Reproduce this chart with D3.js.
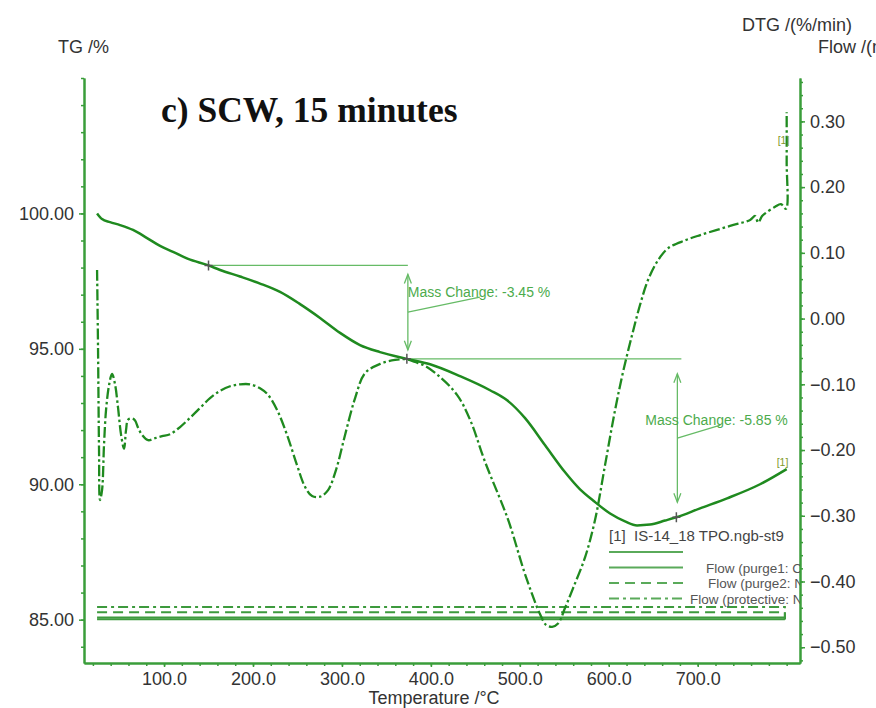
<!DOCTYPE html>
<html>
<head>
<meta charset="utf-8">
<script src="https://cdn.jsdelivr.net/npm/d3@7"></script>
<style>
body { margin: 0; background: #fff; }
svg { display: block; font-family: "Liberation Sans", Arial, sans-serif; }
</style>
</head>
<body>
<div id="chart"></div>
<script>
var width = 876
var height = 708

// TG curve (temperature in °C, mass in %)
var tgTemp = [24.7, 30.3, 39.3, 50.5, 65.1, 80.9, 95.5, 110.1, 127.0, 150.0, 163.0, 185.4, 207.9, 230.4, 252.9,
	275.4, 297.9, 320.3, 342.8, 373.0, 399.1, 432.8, 466.5, 485.7, 505.9, 528.4, 550.9, 567.7, 582.4, 601.5,
	618.3, 631.8, 646.4, 663.3, 676.0, 702.6, 733.0, 770.1, 800.0];
var tgValue = [100.00, 99.79, 99.68, 99.57, 99.39, 99.09, 98.80, 98.58, 98.32, 98.08, 97.91, 97.67, 97.41, 97.10, 96.65,
	96.14, 95.59, 95.14, 94.88, 94.63, 94.43, 93.99, 93.47, 93.10, 92.44, 91.44, 90.44, 89.81, 89.40, 88.92,
	88.63, 88.48, 88.51, 88.66, 88.78, 89.11, 89.48, 90.00, 90.56];

// DTG curve (%/min)
var dtgTemp = [24.7, 25.8, 26.9, 28.0, 30.3, 32.5, 34.8, 38.2, 41.5, 44.9, 48.3, 51.7, 55.0, 57.3, 59.5,
	64.0, 67.4, 70.8, 75.3, 82.0, 89.9, 97.8, 106.7, 118.0, 129.2, 140.5, 151.7, 163.0, 174.2, 185.4,
	196.7, 207.9, 216.9, 227.1, 238.3, 249.5, 258.5, 266.4, 275.4, 284.4, 293.4, 303.5, 314.8, 326.0, 342.9,
	359.7, 373.2, 382.2, 393.5, 410.3, 429.4, 444.1, 460.9, 486.8, 505.9, 522.8, 529.5, 536.3, 543.0, 550.9,
	559.9, 573.4, 584.6, 595.8, 607.1, 616.1, 626.2, 635.2, 644.2, 655.5, 666.7, 685.8, 702.8, 736.4, 758.9,
	764.5, 767.9, 772.4, 775.8, 787.0, 793.6, 799.3, 800.0, 800.0];
var dtgValue = [0.074, -0.048, -0.200, -0.276, -0.261, -0.192, -0.139, -0.101, -0.084, -0.100, -0.136, -0.177, -0.198, -0.169, -0.154,
	-0.152, -0.155, -0.166, -0.177, -0.185, -0.182, -0.179, -0.176, -0.165, -0.151, -0.136, -0.121, -0.110, -0.103, -0.100,
	-0.100, -0.106, -0.116, -0.139, -0.177, -0.223, -0.256, -0.270, -0.271, -0.261, -0.230, -0.177, -0.121, -0.083, -0.069,
	-0.063, -0.062, -0.066, -0.072, -0.089, -0.116, -0.154, -0.218, -0.306, -0.389, -0.450, -0.466, -0.469, -0.464, -0.440,
	-0.410, -0.363, -0.306, -0.223, -0.139, -0.081, -0.025, 0.021, 0.059, 0.089, 0.107, 0.119, 0.127, 0.141, 0.150,
	0.156, 0.146, 0.156, 0.160, 0.170, 0.174, 0.167, 0.240, 0.314];

// gas flows (ml/min), constant over the run
var flowNames = ["", "Flow (purge1: CO2)", "Flow (purge2: N2)", "Flow (protective: N2)"];
var flowValue = [5, 0, 20, 35];
var flowStart = 24.7;
var flowEnd = 798;

// mass change steps
var stepStart = [150, 373];
var stepEnd = [373, 676];
var stepChange = [-3.45, -5.85];

var tgTicks = [85, 90, 95, 100];
var dtgTicks = [0.30, 0.20, 0.10, 0.00, -0.10, -0.20, -0.30, -0.40, -0.50];
var tempTicks = [100, 200, 300, 400, 500, 600, 700];

var axisGreen = "#3a9d3a";
var curveGreen = "#1f8a1f";
var noteGreen = "#66bb66";
var textGrey = "#333";

var plotLeft = 84, plotRight = 800, plotTop = 78, plotBottom = 663;

var svg = d3.select("#chart")
	.append("svg")
	.attr("width", width)
	.attr("height", height);

var x = d3.scaleLinear().domain([10, 815]).range([plotLeft, plotRight]);
var yTG = d3.scaleLinear().domain([83.4, 105.0]).range([plotBottom, plotTop]);
var yDTG = d3.scaleLinear().domain([-0.524, 0.366]).range([plotBottom, plotTop]);
var yFlow = d3.scaleLinear().domain([-125, 1550]).range([plotBottom, plotTop]);

svg.append("clipPath")
	.attr("id", "plotClip")
	.append("rect")
	.attr("x", plotLeft)
	.attr("y", plotTop - 40)
	.attr("width", plotRight - plotLeft)
	.attr("height", plotBottom - plotTop + 40);

// axes
function styleAxis(g) {
	g.selectAll(".domain").attr("stroke", axisGreen).attr("stroke-width", 2);
	g.selectAll(".tick line").attr("stroke", axisGreen).attr("stroke-width", 1.5);
	g.selectAll(".tick text").attr("fill", textGrey).style("font-size", "18px");
}

var minorTG = d3.range(84, 105.01, 1);
var minorDTG = d3.range(-0.52, 0.361, 0.02);
var minorTemp = d3.range(20, 801, 20);

svg.append("g")
	.attr("transform", "translate(" + plotLeft + ",0)")
	.call(d3.axisLeft(yTG).tickValues(minorTG).tickFormat("").tickSize(3).tickSizeOuter(0))
	.call(styleAxis);
svg.append("g")
	.attr("transform", "translate(" + plotLeft + ",0)")
	.call(d3.axisLeft(yTG).tickValues(tgTicks).tickFormat(d3.format(".2f")).tickSize(5).tickPadding(5).tickSizeOuter(0))
	.call(styleAxis);

svg.append("g")
	.attr("transform", "translate(" + plotRight + ",0)")
	.call(d3.axisRight(yDTG).tickValues(minorDTG).tickFormat("").tickSize(3).tickSizeOuter(0))
	.call(styleAxis);
svg.append("g")
	.attr("transform", "translate(" + plotRight + ",0)")
	.call(d3.axisRight(yDTG).tickValues(dtgTicks).tickFormat(d3.format(".2f")).tickSize(5).tickPadding(5).tickSizeOuter(0))
	.call(styleAxis);

svg.append("g")
	.attr("transform", "translate(0," + plotBottom + ")")
	.call(d3.axisBottom(x).tickValues(minorTemp).tickFormat("").tickSize(3).tickSizeOuter(0))
	.call(styleAxis);
svg.append("g")
	.attr("transform", "translate(0," + plotBottom + ")")
	.call(d3.axisBottom(x).tickValues(tempTicks).tickFormat(d3.format(".1f")).tickSize(4).tickPadding(5).tickSizeOuter(0))
	.call(styleAxis);

// axis titles
svg.append("text").attr("x", 58).attr("y", 53).attr("fill", textGrey)
	.style("font-size", "18px").text("TG /%");
svg.append("text").attr("x", 742).attr("y", 31).attr("fill", textGrey)
	.style("font-size", "18px").text("DTG /(%/min)");
svg.append("text").attr("x", 818).attr("y", 53).attr("fill", textGrey)
	.style("font-size", "18px").text("Flow /(ml/min)");
svg.append("text").attr("x", 434).attr("y", 704).attr("text-anchor", "middle").attr("fill", textGrey)
	.style("font-size", "18px").text("Temperature /°C");

svg.append("text")
	.attr("x", 161).attr("y", 122)
	.style("font-family", "'Liberation Serif', 'Times New Roman', serif")
	.style("font-weight", "bold")
	.style("font-size", "35.5px")
	.attr("fill", "#111")
	.text("c) SCW, 15 minutes");

var plot = svg.append("g").attr("clip-path", "url(#plotClip)");

// flow lines
var flowDash = [null, null, "10,6", "10,4,3,4"];
flowValue.forEach(function (v, i) {
	plot.append("path")
		.attr("d", d3.line()([[x(flowStart), yFlow(v)], [x(flowEnd), yFlow(v)], [x(flowEnd), yFlow(0)]]))
		.attr("fill", "none")
		.attr("stroke", "#3d9a3d")
		.attr("stroke-width", 2)
		.attr("stroke-dasharray", flowDash[i]);
});

// mass change annotations
var inset = [9, 15];
var leaderDx = [72, 43];
var leaderDy = [15, 13];
var labelDx = [0, -32];
var overshoot = [0, 4];
var level = stepStart.map(function (s, i) {
	var v0 = d3.sum(stepChange.slice(0, i)) + tgValue[tgTemp.indexOf(stepStart[0])];
	return [v0, v0 + stepChange[i]];
});

stepStart.forEach(function (s, i) {
	var ax = x(stepEnd[i]) + 1;
	var y0 = yTG(level[i][0]), y1 = yTG(level[i][1]);
	var ym = (y0 + y1) / 2;
	var g = plot.append("g").attr("stroke", noteGreen).attr("stroke-width", 1.3).attr("fill", "none");
	g.append("line").attr("x1", x(s)).attr("x2", ax + overshoot[i]).attr("y1", y0).attr("y2", y0);
	var a0 = y0 + inset[i], a1 = y1 - inset[i];
	g.append("line").attr("x1", ax).attr("x2", ax).attr("y1", a0).attr("y2", a1);
	g.append("path").attr("d", d3.line()([[ax - 3.5, a0 + 9], [ax, a0], [ax + 3.5, a0 + 9]]));
	g.append("path").attr("d", d3.line()([[ax - 3.5, a1 - 9], [ax, a1], [ax + 3.5, a1 - 9]]));
	g.append("line").attr("x1", ax).attr("y1", ym).attr("x2", ax + leaderDx[i]).attr("y2", ym - leaderDy[i]);
	plot.append("text")
		.attr("x", ax + labelDx[i]).attr("y", ym - leaderDy[i])
		.attr("fill", "#4cab4c")
		.style("font-size", "14px")
		.text("Mass Change: " + stepChange[i].toFixed(2) + " %");
});

// curves
var tgData = tgTemp.map(function (t, i) { return [t, tgValue[i]]; });
var dtgData = dtgTemp.map(function (t, i) { return [t, dtgValue[i]]; });

plot.append("path")
	.datum(dtgData)
	.attr("d", d3.line().x(function (d) { return x(d[0]); }).y(function (d) { return yDTG(d[1]); })
		.curve(d3.curveCatmullRom.alpha(0.5)))
	.attr("fill", "none")
	.attr("stroke", curveGreen)
	.attr("stroke-width", 2.3)
	.attr("stroke-dasharray", "11,3,2.5,3");

plot.append("path")
	.datum(tgData)
	.attr("d", d3.line().x(function (d) { return x(d[0]); }).y(function (d) { return yTG(d[1]); })
		.curve(d3.curveMonotoneX))
	.attr("fill", "none")
	.attr("stroke", curveGreen)
	.attr("stroke-width", 2.5);

// step markers
var markerT = [stepStart[0], stepEnd[0], stepEnd[1]];
var markerV = [level[0][0], level[0][1], level[1][1]];
markerT.forEach(function (t, i) {
	var mx = x(t), my = yTG(markerV[i]);
	plot.append("path")
		.attr("d", "M" + (mx - 4) + "," + my + "H" + (mx + 4) + "M" + mx + "," + (my - 5) + "V" + (my + 5))
		.attr("stroke", "#555")
		.attr("stroke-width", 1.5);
});

// curve end tags
plot.append("text").attr("x", x(tgTemp[tgTemp.length - 1]) - 10).attr("y", yTG(tgValue[tgValue.length - 1]) - 3)
	.attr("fill", "#7f9a2a").style("font-size", "10.5px").text("[1]");
plot.append("text").attr("x", x(800) - 9).attr("y", yDTG(0.265))
	.attr("fill", "#7f9a2a").style("font-size", "10.5px").text("[1]");

// legend
var legX = 609, legY = 541;
var legText = [706, 708, 690];
plot.append("text").attr("x", legX).attr("y", legY).attr("fill", "#444")
	.style("font-size", "15px").attr("xml:space", "preserve").text("[1]  IS-14_18 TPO.ngb-st9");
flowNames.forEach(function (name, i) {
	var ly = legY + 11 + i * 15.5;
	plot.append("line")
		.attr("x1", legX).attr("x2", legX + 74).attr("y1", ly).attr("y2", ly)
		.attr("stroke", "#5aaa5a").attr("stroke-width", 2)
		.attr("stroke-dasharray", flowDash[i]);
	if (name) {
		plot.append("text").attr("x", legText[i - 1]).attr("y", ly + 5)
			.attr("fill", "#555").style("font-size", "13.5px").text(name);
	}
});
</script>
</body>
</html>
